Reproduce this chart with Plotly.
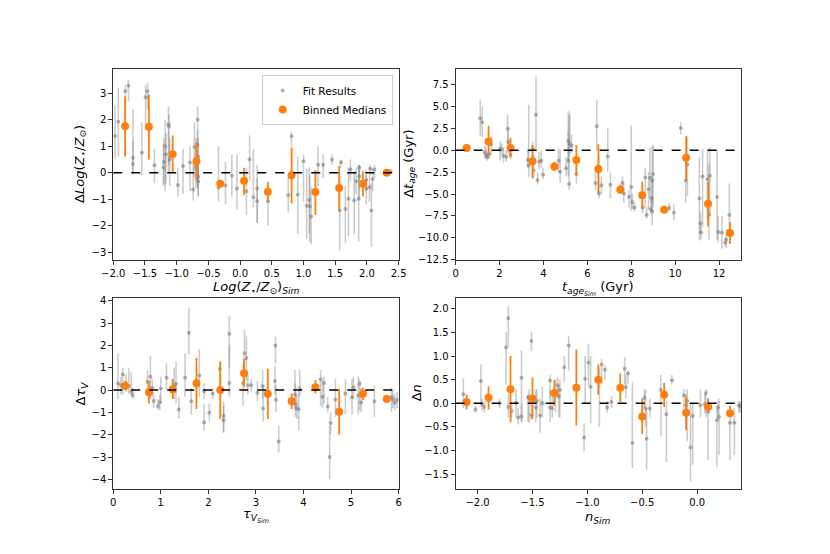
import plotly.graph_objects as go

# --- panel 1: metallicity ---
z_sim = [-1.97, -1.92, -1.81, -1.76, -1.69, -1.69, -1.55, -1.49, -1.46, -1.35, -1.21, -1.2, -1.18, -1.17,
         -1.13, -1.12, -1.11, -0.98, -0.9, -0.79, -0.74, -0.72, -0.7, -0.67, -0.67, -0.66, -0.66, -0.66,
         -0.34, -0.23, -0.13, -0.05, 0.1, 0.15, 0.21, 0.27, 0.27, 0.44, 0.76, 0.81, 0.91, 1.0, 1.05, 1.09,
         1.1, 1.12, 1.23, 1.31, 1.45, 1.57, 1.59, 1.66, 1.71, 1.74, 1.8, 1.83, 1.88, 1.88, 1.87, 1.99,
         1.99, 2.04, 2.05, 2.07, 2.09, 2.12, 2.37]
z_dif = [1.38, 1.92, 3.07, 3.28, 0.56, 0.33, 0.75, 2.85, 3.07, 0.28, 0.2, 0.4, 0.99, 0.7,
         1.83, 1.74, 0.5, -0.46, 0.25, 0.38, -0.63, 0.97, 0.2, 2.0, 1.05, 0.6, -0.15, -0.33,
         -0.56, -0.48, -0.12, -0.6, -0.7, 0.51, -0.93, -0.6, -1.08, -1.08, -0.85, 1.37, -0.83, 0.43, -1.25, -1.03,
         -1.27, -1.65, 0.3, 0.3, 0.49, -1.43, 0.39, -1.37, -0.98, 0.12, -1.05, -0.32, -0.13, 0.2, -0.98, -0.28,
         -0.6, -0.55, 0.15, -1.43, -0.25, 0.12, 0.05]
z_lo = [0.51, 0.6, 2.1, 2.7, 0.0, -0.05, -0.1, 1.6, 2.4, -0.4, -0.5, -0.45, -0.7, -0.4,
        0.0, 0.3, -0.5, -0.9, -0.8, -0.7, -1.05, -0.2, -0.6, -0.6, -0.5, -0.3, -0.9, -0.9,
        -1.1, -1.2, -0.9, -1.4, -1.6, -0.3, -1.3, -1.9, -1.9, -2.0, -1.5, 1.0, -2.3, -1.1, -2.5, -2.3,
        -2.6, -2.7, -0.5, -0.2, 0.3, -2.95, 0.2, -2.65, -2.4, -0.3, -2.3, -0.8, -0.6, -1.0, -2.6, -0.7,
        -1.2, -1.1, -0.1, -2.8, -0.7, -0.2, 0.0]
z_hi = [2.54, 3.2, 3.3, 3.5, 2.4, 1.2, 1.9, 3.3, 3.4, 0.9, 1.1, 1.3, 2.0, 1.5,
        2.5, 2.2, 1.3, 0.2, 0.9, 1.0, 0.4, 1.9, 1.3, 2.5, 1.6, 1.3, 0.6, 0.2,
        1.0, 0.4, 0.7, 0.7, 0.2, 1.4, 0.9, 0.3, -0.2, -0.5, -0.2, 1.55, 0.6, 0.7, 0.15, 0.2,
        -0.1, -0.55, 1.0, 0.7, 0.7, 0.0, 0.5, -0.5, 0.2, 0.5, 0.0, 0.2, 0.3, 0.25, 0.3, 0.1,
        -0.1, -0.1, 0.3, -0.4, 0.2, 0.3, 0.1]
z_bin = [-1.8125, -1.4375, -1.0625, -0.6875, -0.3125, 0.0625, 0.4375, 0.8125, 1.1875, 1.5625, 1.9375, 2.3125]
z_med = [1.75, 1.73, 0.7, 0.43, -0.42, -0.3, -0.72, -0.1, -0.73, -0.58, -0.42, 0.0]
z_med_lo = [0.6, 0.5, 0.0, -0.3, -0.55, -0.85, -1.1, -1.15, -1.6, -1.4, -0.9, -0.04]
z_med_hi = [2.88, 2.95, 1.4, 1.15, -0.3, 0.18, -0.35, 0.95, 0.1, 0.25, 0.05, 0.04]

# --- panel 2: age ---
t_sim = [0.41, 0.56, 1.12, 1.21, 1.33, 1.39, 1.44, 1.52, 1.62, 2.03, 2.1, 2.18, 2.3, 2.37, 2.4, 2.5,
         3.29, 3.33, 3.51, 3.55, 3.66, 3.73, 3.8, 3.9, 3.98, 4.69, 4.76, 5.03, 5.13, 5.13, 5.17, 5.2,
         5.28, 5.5, 6.37, 6.43, 6.53, 6.64, 6.93, 7.05, 7.6, 7.66, 7.9, 8.0, 8.05, 8.15, 8.52, 8.64,
         8.7, 8.79, 8.85, 8.89, 8.93, 8.96, 8.96, 8.99, 9.73, 9.94, 10.26, 10.48, 10.56, 11.1, 11.15,
         11.18, 11.25, 11.47, 11.54, 11.58, 11.91, 11.96, 12.13, 12.28, 12.33, 12.47]
t_dif = [0.22, 0.2, 3.65, 3.2, -0.25, -0.55, -0.8, -0.45, 0.65, 0.2, 0.1, -0.65, -0.75, 2.5, 0.95, -0.55,
         -1.1, -1.75, 0.2, -2.3, 4.05, -3.4, -1.3, -1.2, -2.8, -1.2, -2.45, -2.05, -1.2, 1.05, -3.85, 0.75,
         0.55, -2.7, -3.75, 2.75, -4.95, -4.0, -0.7, -3.95, -3.7, -4.95, -5.3, -4.2, -5.9, -6.55, -6.55, -3.1,
         -7.4, -4.45, -3.15, -6.75, -5.45, -3.45, -7.0, -2.7, -6.6, -7.1, 2.55, -3.45, -1.6, -5.5, -8.35,
         -9.4, -3.0, -3.3, -7.4, -2.9, -5.35, -9.35, -9.4, -10.55, -10.2, -7.4]
t_lo = [0.0, 0.0, 1.7, 1.5, -0.9, -1.0, -1.2, -1.0, -0.5, -1.2, -0.5, -1.4, -1.3, 0.3, -0.4, -1.0,
        -2.0, -3.1, -0.8, -3.2, 0.0, -3.9, -2.2, -2.0, -3.3, -2.5, -3.7, -3.0, -3.0, -1.0, -4.5, -0.5,
        -0.3, -3.8, -4.5, 0.0, -5.5, -5.0, -2.5, -5.5, -4.5, -6.0, -6.5, -7.0, -6.7, -7.0, -7.2, -6.5,
        -7.8, -6.8, -5.5, -7.3, -7.0, -6.0, -8.6, -6.5, -7.0, -8.0, 1.8, -6.0, -5.2, -10.3, -9.5,
        -10.2, -8.8, -8.0, -10.2, -7.5, -10.2, -10.5, -11.3, -11.0, -11.2, -9.2]
t_hi = [0.5, 0.4, 5.8, 5.0, 0.5, 0.2, -0.3, 0.3, 1.6, 1.0, 0.8, 0.3, 0.0, 4.1, 2.5, 0.2,
        0.0, 5.2, 1.0, -0.5, 8.4, -2.5, -0.2, 0.0, -2.0, 0.2, 0.0, -0.8, 2.2, 4.5, 4.0, 4.2,
        1.8, -1.2, -2.5, 5.8, -0.5, -3.0, 2.5, -2.5, -3.0, -3.8, -4.5, 2.8, -5.0, -6.0, -5.8, -2.0,
        -6.5, -2.5, 0.3, -5.5, -3.0, 0.5, -5.5, 0.6, -6.0, -6.2, 3.2, -0.5, 1.6, -0.8, -7.0,
        -8.5, 0.1, 0.2, -1.5, 0.4, 0.0, -7.5, -7.5, -10.0, -9.0, -3.8]
t_bin = [0.5, 1.5, 2.5, 3.5, 4.5, 5.5, 6.5, 7.5, 8.5, 9.5, 10.5, 11.5, 12.5]
t_med = [0.25, 1.0, 0.25, -1.25, -1.85, -1.1, -2.15, -4.5, -5.15, -6.8, -0.85, -6.1, -9.45]
t_med_lo = [0.05, -0.6, -0.8, -3.2, -2.4, -2.8, -4.9, -5.0, -6.7, -7.1, -3.4, -8.7, -10.7]
t_med_hi = [0.45, 2.8, 1.4, 0.6, -1.3, 0.6, 0.7, -3.9, -3.6, -6.5, 1.6, -3.6, -8.2]

# --- panel 3: dust ---
tau_sim = [0.1, 0.16, 0.2, 0.27, 0.33, 0.38, 0.41, 0.72, 0.78, 0.82, 0.85, 0.94, 0.98, 1.0, 1.12,
           1.28, 1.32, 1.38, 1.51, 1.59, 1.64, 1.81, 1.91, 1.91, 2.02, 2.09, 2.24, 2.32, 2.32, 2.44,
           2.44, 2.73, 2.76, 2.8, 2.83, 2.9, 3.03, 3.14, 3.15, 3.4, 3.41, 3.42, 3.48, 3.82, 3.83,
           3.86, 3.9, 3.92, 4.36, 4.4, 4.43, 4.51, 4.57, 4.55, 4.67, 4.88, 5.02, 5.05, 5.15, 5.18,
           5.21, 5.49, 5.85, 5.88, 5.92, 5.97]
tau_dif = [0.3, 0.22, 0.7, 0.28, 0.18, -0.05, -0.22, 0.37, 0.6, 0.1, -0.49, -0.71, -0.55, 0.07, 0.55,
           0.22, 0.28, -0.87, 0.55, 2.57, -0.5, 0.65, -1.45, -0.05, -1.02, -0.16, 0.94, -1.15, -1.35, 0.32,
           2.52, 0.32, 1.65, 1.43, 0.22, 0.22, -0.12, 0.18, -0.83, 0.4, 2.0, -0.43, -2.3, -0.2, -0.65,
           -0.82, -0.86, 0.07, 0.47, -0.3, 0.31, -0.74, -1.48, -3.0, -0.42, -0.16, -0.32, 0.13, -0.24, 0.28,
           -0.56, -0.5, -0.32, -0.42, -0.57, -0.45]
tau_lo = [-0.4, -0.2, -0.2, -0.1, -0.2, -0.3, -0.4, -0.1, -0.4, -0.3, -0.8, -0.9, -0.9, -0.6, 0.0,
          -0.4, -0.6, -1.3, -0.3, 1.6, -1.1, -0.3, -1.8, -0.4, -1.4, -0.4, 0.2, -1.9, -1.9, -0.3,
          1.0, -0.7, 0.5, 0.4, -0.2, -0.1, -0.5, -0.4, -1.4, -0.2, 1.2, -1.0, -2.8, -0.9, -1.2,
          -1.3, -1.8, -0.3, -0.7, -0.8, -0.6, -1.0, -2.0, -4.0, -1.2, -1.1, -1.1, -0.4, -1.1, -0.9,
          -1.0, -1.2, -1.0, -0.8, -0.9, -0.8]
tau_hi = [1.65, 0.6, 1.0, 0.7, 1.0, 0.8, 0.1, 0.9, 1.55, 0.5, -0.1, -0.4, -0.2, 0.6, 1.2,
          1.0, 1.3, -0.3, 1.65, 3.7, 0.1, 1.85, -0.6, 0.3, -0.6, 0.1, 1.2, -0.7, -0.5, 2.0,
          3.3, 1.2, 2.7, 2.4, 0.7, 0.5, 0.4, 0.9, 0.2, 1.1, 2.4, 0.2, -1.6, 0.9, 0.3,
          -0.2, 0.0, 0.9, 0.9, 0.4, 0.6, -0.3, -1.0, -1.6, 0.5, 0.5, 0.5, 0.6, 0.6, 0.5,
          0.1, 0.2, 0.1, 0.0, -0.2, -0.1]
tau_bin = [0.25, 0.75, 1.25, 1.75, 2.25, 2.75, 3.25, 3.75, 4.25, 4.75, 5.25, 5.75]
tau_med = [0.18, -0.1, 0.03, 0.3, 0.0, 0.75, -0.17, -0.5, 0.13, -0.97, -0.17, -0.4]
tau_med_lo = [0.05, -0.6, -0.4, -0.85, -1.3, 0.15, -1.3, -0.85, -0.15, -2.0, -0.45, -0.45]
tau_med_hi = [0.4, 0.4, 0.5, 1.45, 1.3, 1.4, 0.95, -0.15, 0.45, 0.05, 0.1, -0.35]

# --- panel 4: n ---
n_sim = [-2.13, -2.02, -1.97, -1.96, -1.94, -1.8, -1.74, -1.72, -1.72, -1.69, -1.65, -1.63, -1.6, -1.6,
         -1.54, -1.53, -1.51, -1.51, -1.47, -1.46, -1.43, -1.41, -1.34, -1.34, -1.32, -1.29, -1.27, -1.26,
         -1.25, -1.21, -1.17, -1.02, -1.03, -0.99, -0.97, -0.89, -0.87, -0.84, -0.82, -0.78, -0.66, -0.65,
         -0.63, -0.59, -0.48, -0.47, -0.46, -0.43, -0.33, -0.28, -0.23, -0.12, -0.1, -0.09, -0.04, -0.06,
         0.03, 0.08, 0.07, 0.1, 0.18, 0.19, 0.2, 0.3, 0.34, 0.38, 0.39]
n_dif = [0.19, -0.13, 0.47, -0.02, -0.08, 0.0, 1.18, 1.8, -0.08, -0.16, 0.01, -0.3, 0.54, -0.28,
         0.13, 0.1, 1.32, -0.25, -0.09, 0.05, -0.26, 0.0, -0.09, 0.48, -0.11, 0.26, 0.38, 0.15,
         0.28, 0.76, 1.22, 0.52, -0.72, 0.86, 0.35, 0.47, 0.82, 0.71, -0.09, 0.03, 0.73, 0.34,
         0.63, -0.84, 0.12, -0.11, -0.75, -0.11, 0.28, -0.23, 0.49, 0.17, -0.04, 0.05, -0.27, -0.93,
         -0.04, 0.22, -0.02, -0.18, -0.36, -0.09, -0.29, -0.41, -0.41, -0.04, -0.06]
n_lo = [-0.1, -0.2, -0.05, -0.15, -0.2, -0.1, 0.4, 1.2, -0.3, -0.3, -0.3, -0.45, -0.4, -0.4,
        -0.4, -0.4, 1.1, -0.35, -0.4, -0.3, -0.62, -0.3, -0.4, 0.1, -0.3, -0.2, 0.1, -0.3,
        -0.3, 0.45, 0.7, 0.0, -1.02, 0.37, -0.42, -0.5, 0.4, 0.5, -0.2, -0.1, 0.4, 0.1,
        0.4, -1.37, -0.1, -0.5, -1.4, -0.3, -0.7, -1.25, 0.4, -0.2, -0.5, -0.8, -1.3, -1.65,
        -0.3, -0.3, -0.2, -1.2, -1.35, -0.3, -1.1, -1.2, -1.1, -0.2, -0.2]
n_hi = [0.53, -0.05, 0.82, 0.1, 0.05, 0.1, 1.5, 2.05, 0.2, 0.0, 0.3, -0.1, 1.12, 0.0,
        0.2, 0.3, 1.5, 0.0, 0.3, 0.3, 0.1, 0.35, 0.3, 0.6, 0.2, 0.5, 0.55, 0.4,
        0.5, 1.0, 1.43, 1.0, -0.42, 1.25, 1.0, 0.75, 0.95, 0.8, 0.05, 0.15, 0.98, 0.6,
        0.7, 0.45, 0.3, 0.28, -0.1, 0.1, 0.6, 0.05, 0.6, 0.3, 0.2, 0.3, 0.0, 0.0,
        0.3, 0.3, 0.2, 0.1, -0.1, 0.05, 0.1, -0.1, -0.1, 0.05, 0.05]
n_bin = [-2.1, -1.9, -1.7, -1.5, -1.3, -1.1, -0.9, -0.7, -0.5, -0.3, -0.1, 0.1, 0.3]
n_med = [0.03, 0.12, 0.3, 0.1, 0.22, 0.33, 0.5, 0.33, -0.28, 0.18, -0.2, -0.07, -0.21]
n_med_lo = [-0.13, -0.13, -0.4, -0.33, -0.05, -0.47, 0.18, 0.03, -0.65, -0.08, -0.57, -0.2, -0.3]
n_med_hi = [0.18, 0.36, 1.0, 0.55, 0.5, 1.14, 0.82, 0.63, 0.1, 0.43, 0.15, 0.1, -0.05]

ORANGE = "#ff7f0e"
FONT = "DejaVu Sans"
W, H = 830, 554

fig = go.Figure()


def add_panel(ax, xs, ys, lo, hi, bx, by, blo, bhi, legend):
    xa = "x" if ax == 1 else "x%d" % ax
    ya = "y" if ax == 1 else "y%d" % ax
    fig.add_trace(go.Scatter(
        x=xs, y=ys, mode="markers", xaxis=xa, yaxis=ya,
        name="Fit Results", showlegend=legend, legendgroup="fit",
        marker=dict(color="rgba(128,128,128,0.6)", size=4),
        error_y=dict(type="data", symmetric=False,
                     array=[h - y for h, y in zip(hi, ys)],
                     arrayminus=[y - l for l, y in zip(lo, ys)],
                     color="rgba(128,128,128,0.4)", thickness=1.6, width=0)))
    fig.add_trace(go.Scatter(
        x=bx, y=by, mode="markers", xaxis=xa, yaxis=ya,
        name="Binned Medians", showlegend=legend, legendgroup="med",
        marker=dict(color=ORANGE, size=8),
        error_y=dict(type="data", symmetric=False,
                     array=[h - y for h, y in zip(bhi, by)],
                     arrayminus=[y - l for l, y in zip(blo, by)],
                     color=ORANGE, thickness=1.8, width=0)))
    fig.add_shape(type="line", xref=xa + " domain", yref=ya, x0=0, x1=1, y0=0, y1=0,
                  line=dict(color="black", width=1.5, dash="dash"))


add_panel(1, z_sim, z_dif, z_lo, z_hi, z_bin, z_med, z_med_lo, z_med_hi, True)
add_panel(2, t_sim, t_dif, t_lo, t_hi, t_bin, t_med, t_med_lo, t_med_hi, False)
add_panel(3, tau_sim, tau_dif, tau_lo, tau_hi, tau_bin, tau_med, tau_med_lo, tau_med_hi, False)
add_panel(4, n_sim, n_dif, n_lo, n_hi, n_bin, n_med, n_med_lo, n_med_hi, False)

axis_style = dict(showline=True, mirror=True, linecolor="#333333", linewidth=1,
                  ticks="outside", ticklen=4, tickwidth=1, tickcolor="#333333",
                  showgrid=False, zeroline=False, tickfont=dict(size=10, family=FONT, color="black"))

xl, xr = 0.125, 0.4773
xl2, xr2 = 0.5477, 0.9
yb1, yt1 = 0.53, 0.88
yb2, yt2 = 0.11, 0.46

# axis titles placed in pixels (centre x, centre y, rotated?)
titles = [
    ("<i>Log</i>(<i>Z</i><sub>⋆</sub>/<i>Z</i><sub>⊙</sub>)<sub><i>Sim</i></sub>", 250, 289, False),
    ("Δ<i>Log</i>(<i>Z</i><sub>⋆</sub>/<i>Z</i><sub>⊙</sub>)", 70, 163, True),
    ("<i>t</i><sub><i>age</i><sub><i>Sim</i></sub></sub> (Gyr)", 600, 290, False),
    ("Δ<i>t</i><sub><i>age</i></sub> (Gyr)", 407, 163, True),
    ("<i>τ</i><sub><i>V</i><sub><i>Sim</i></sub></sub>", 250, 520, False),
    ("Δ<i>τ</i><sub><i>V</i></sub>", 71, 396, True),
    ("<i>n</i><sub><i>Sim</i></sub>", 600, 522, False),
    ("Δ<i>n</i>", 414, 396, True),
]
for text, px, py, rot in titles:
    fig.add_annotation(text=text, xref="paper", yref="paper", x=px / W, y=1 - py / H,
                       xanchor="center", yanchor="middle", showarrow=False,
                       textangle=-90 if rot else 0,
                       font=dict(size=13, family=FONT, color="black"))

fig.update_layout(
    width=W, height=H, plot_bgcolor="white", paper_bgcolor="white",
    margin=dict(l=0, r=0, t=0, b=0),
    font=dict(family=FONT, size=10, color="black"),
    xaxis=dict(axis_style, domain=[xl, xr], anchor="y", range=[-2.0, 2.5], dtick=0.5, tickformat=".1f"),
    yaxis=dict(axis_style, domain=[yb1, yt1], anchor="x", range=[-3.28, 3.93], dtick=1),
    xaxis2=dict(axis_style, domain=[xl2, xr2], anchor="y2", range=[0, 13], dtick=2),
    yaxis2=dict(axis_style, domain=[yb1, yt1], anchor="x2", range=[-12.5, 9.35], dtick=2.5,
                tickformat=".1f"),
    xaxis3=dict(axis_style, domain=[xl, xr], anchor="y3", range=[0, 6], dtick=1),
    yaxis3=dict(axis_style, domain=[yb2, yt2], anchor="x3", range=[-4.43, 4.13], dtick=1),
    xaxis4=dict(axis_style, domain=[xl2, xr2], anchor="y4", range=[-2.2, 0.4], dtick=0.5,
                tickformat=".1f"),
    yaxis4=dict(axis_style, domain=[yb2, yt2], anchor="x4", range=[-1.81, 2.23], dtick=0.5,
                tickformat=".1f"),
    legend=dict(x=0.47, y=0.868, xanchor="right", yanchor="top",
                bgcolor="rgba(255,255,255,0.8)", bordercolor="#cccccc", borderwidth=1,
                font=dict(size=10.5, family=FONT), itemwidth=30, tracegroupgap=0),
)

fig.write_html("out.html", config={"displayModeBar": False},
               post_script="document.body.style.margin='0';")
